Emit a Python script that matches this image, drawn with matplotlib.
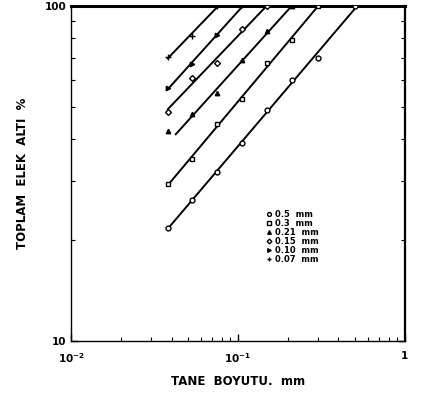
"""
Cumulative passing (%) vs particle size, log-log, one line per feed size.
"""

import matplotlib

matplotlib.use("Agg")
import matplotlib.pyplot as plt
import numpy as np
from matplotlib.ticker import NullFormatter

# sieve openings, mm
sieve = [0.038, 0.053, 0.075, 0.106, 0.15, 0.212, 0.3, 0.5]

# cumulative passing, %
pass_05 = [21.8, 26.4, 31.9, 39.0, 48.9, 60.1, 69.9, 100.0]
pass_03 = [29.4, 34.9, 44.4, 52.8, 67.6, 79.4, 100.0]
pass_021 = [42.4, 47.6, 55.0, 69.0, 84.2, 100.0]
pass_015 = [48.3, 61.0, 67.6, 85.4, 100.0]
pass_010 = [56.9, 67.1, 81.9, 100.0]
pass_007 = [70.4, 81.4, 100.0]

labels = ["0.5  mm", "0.3  mm", "0.21  mm", "0.15  mm", "0.10  mm", "0.07  mm"]
series = [pass_05, pass_03, pass_021, pass_015, pass_010, pass_007]
# points left out of the straight-line fit (first 0.21 mm point)
skip_fit = [[], [], [0], [], [], []]

markers = ["o", "s", "^", "D", ">", "+"]
fills = ["white", "white", "black", "white", "black", "black"]
sizes = [3.5, 3.2, 3.2, 3.0, 3.2, 4.0]

plt.rcParams["font.family"] = "DejaVu Sans"
plt.rcParams["font.weight"] = "bold"

fig = plt.figure(figsize=(4.23, 3.97), dpi=100)
ax = fig.add_axes([0.168, 0.141, 0.789, 0.844])

for vals, lab, mk, fc, ms, skip in zip(series, labels, markers, fills, sizes, skip_fit):
    x = np.array(sieve[: len(vals)])
    y = np.array(vals)
    keep = [i for i in range(len(x)) if i not in skip]
    # straight fit in log-log space, drawn up to 100 %
    k, b = np.polyfit(np.log10(x[keep]), np.log10(y[keep]), 1)
    x_end = 10 ** ((2 - b) / k)
    xs = np.array([x[keep][0] * 0.8 if skip else x[0], x_end])
    ax.plot(xs, 10 ** (k * np.log10(xs) + b), color="black", lw=1.4, zorder=2)
    ax.plot(x, y, linestyle="none", marker=mk, ms=ms, mfc=fc, mec="black",
            mew=1.0, color="black", label=lab, zorder=3)

ax.set_xscale("log")
ax.set_yscale("log")
ax.set_xlim(0.01, 1)
ax.set_ylim(10, 100)

ax.set_xticks([0.01, 0.1, 1])
ax.set_xticklabels([r"10$^{-2}$", r"10$^{-1}$", "1"])
ax.set_yticks([10, 100])
ax.set_yticklabels(["10", "100"])
ax.xaxis.set_minor_formatter(NullFormatter())
ax.yaxis.set_minor_formatter(NullFormatter())
ax.tick_params(which="both", direction="in", top=False, right=True,
               labelsize=7.5)
ax.tick_params(which="major", length=5, width=1.0)
ax.tick_params(which="minor", length=3, width=0.8)
ax.tick_params(axis="x", which="major", pad=7)

for side in ["left", "bottom"]:
    ax.spines[side].set_linewidth(1.0)
ax.spines["top"].set_linewidth(2.2)
ax.spines["right"].set_linewidth(1.6)

ax.set_xlabel("TANE  BOYUTU.  mm", fontsize=8.5, fontweight="bold")
ax.set_ylabel("TOPLAM  ELEK  ALTI  %", fontsize=8.5, fontweight="bold")
ax.xaxis.set_label_coords(0.5, -0.1)
ax.yaxis.set_label_coords(-0.125, 0.5)

ax.legend(loc="upper left", bbox_to_anchor=(0.587, 0.39), frameon=False,
          fontsize=6, handlelength=0.6, handletextpad=0.4, labelspacing=0.0,
          borderpad=0, borderaxespad=0, markerscale=0.8)

fig.savefig("out.png", dpi=100)
